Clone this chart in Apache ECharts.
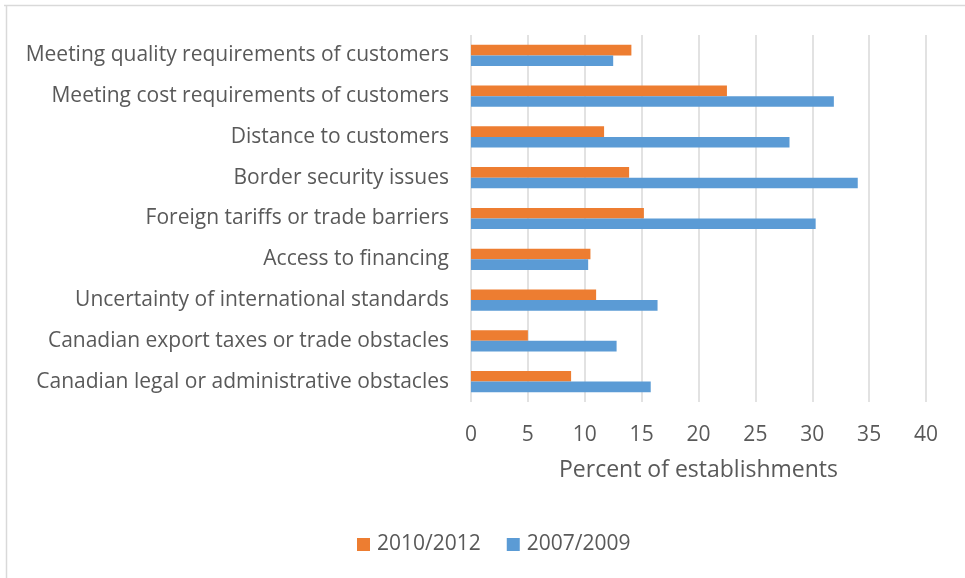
<!DOCTYPE html>
<html>
<head>
<meta charset="utf-8">
<script src="https://cdn.jsdelivr.net/npm/echarts@6/dist/echarts.min.js"></script>
<style>
  html, body { margin: 0; padding: 0; background: #fff; }
  #chart { width: 965px; height: 578px; }
</style>
</head>
<body>
<div id="chart"></div>
<script>
// Obstacles to exporting, listed top to bottom
const categories = [
  'Meeting quality requirements of customers',
  'Meeting cost requirements of customers',
  'Distance to customers',
  'Border security issues',
  'Foreign tariffs or trade barriers',
  'Access to financing',
  'Uncertainty of international standards',
  'Canadian export taxes or trade obstacles',
  'Canadian legal or administrative obstacles'
];
const seriesNames = ['2010/2012', '2007/2009'];
const values2010 = [14.1, 22.5, 11.7, 13.9, 15.2, 10.5, 11.0, 5.0, 8.8];
const values2007 = [12.5, 31.9, 28.0, 34.0, 30.3, 10.3, 16.4, 12.8, 15.8];
const xTicks = { min: 0, max: 40, interval: 5 };

const FONT = '"Open Sans", "Noto Sans", sans-serif';
const TEXT = '#595959';

const chart = echarts.init(document.getElementById('chart'), null, { renderer: 'canvas' });
chart.setOption({
  animation: false,
  textStyle: { fontFamily: FONT },
  graphic: [
    { type: 'line', shape: { x1: 4, y1: 5.5, x2: 965, y2: 5.5 }, style: { stroke: '#d9d9d9', lineWidth: 1.5 } },
    { type: 'line', shape: { x1: 6.5, y1: 5, x2: 6.5, y2: 578 }, style: { stroke: '#d9d9d9', lineWidth: 1.5 } }
  ],
  grid: { left: 471, right: 39, top: 35, bottom: 176, containLabel: false },
  legend: {
    data: seriesNames,
    top: 529,
    left: 352,
    itemWidth: 13,
    itemHeight: 13,
    itemGap: 26,
    icon: 'rect',
    textStyle: { color: TEXT, fontSize: 21, fontFamily: FONT, padding: [0, 0, 0, 2] }
  },
  xAxis: {
    type: 'value',
    min: xTicks.min, max: xTicks.max, interval: xTicks.interval,
    name: 'Percent of establishments',
    nameLocation: 'middle',
    nameGap: 57,
    nameTextStyle: { color: TEXT, fontSize: 23, fontFamily: FONT },
    axisLine: { show: false },
    axisTick: { show: false },
    axisLabel: { color: TEXT, fontSize: 21, margin: 23, fontFamily: FONT },
    splitLine: { show: true, lineStyle: { color: '#d9d9d9', width: 1.5 } }
  },
  yAxis: {
    type: 'category',
    data: categories,
    inverse: true,
    axisLine: { show: false },
    axisTick: { show: false },
    axisLabel: { color: TEXT, fontSize: 21, margin: 22, fontFamily: FONT, padding: [2, 0, 0, 0] }
  },
  series: [
    {
      name: seriesNames[0], type: 'bar', data: values2010,
      itemStyle: { color: '#ED7D31' },
      barGap: '0%', barCategoryGap: '48%'
    },
    {
      name: seriesNames[1], type: 'bar', data: values2007,
      itemStyle: { color: '#5B9BD5' },
      barGap: '0%', barCategoryGap: '48%'
    }
  ]
});
</script>
</body>
</html>
